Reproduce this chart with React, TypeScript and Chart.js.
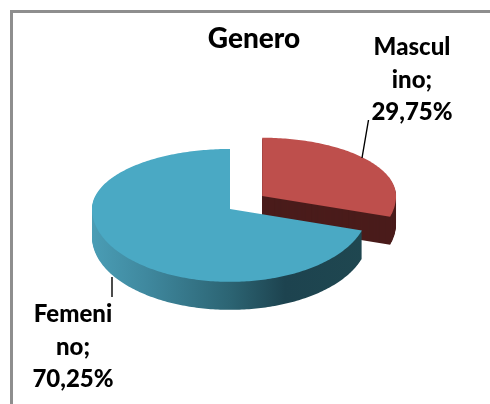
import React, { useEffect, useRef } from "react";
import { Chart, registerables } from "chart.js";

Chart.register(...registerables);

const chartTitle = "Genero";
const categories = ["Masculino", "Femenino"];
const shares = [29.75, 70.25];
const sliceColors = ["#BE4F4C", "#4AA9C4"];
const explode = [160, 0];
const wrappedNames = [["Mascul", "ino;"], ["Femeni", "no;"]];
const decimalLabels = ["29,75%", "70,25%"];

const FONT = "Lato, Carlito, 'Noto Sans', sans-serif";
const PIE_X = 230;
const PIE_Y = 209;
const RADIUS = 138;
const K_UP = 0.435;
const K_DOWN = 0.528;
const K_EXPLODE = 0.55;
const EXPLODED_SCALE = 0.97;
const DEPTH = 28;

const chartCenter = { x: 0, y: 0 };

function outline(el: any) {
  const offset = (el.options.offset || 0) / 4;
  const mid = (el.startAngle + el.endAngle) / 2;
  const ox = Math.cos(mid) * offset + (el.x - chartCenter.x) + PIE_X;
  const oy = Math.sin(mid) * offset * K_EXPLODE + (el.y - chartCenter.y) + PIE_Y;
  const r = el.outerRadius * (offset > 0 ? EXPLODED_SCALE : 1);
  const pts: [number, number][] = [[ox, oy]];
  const steps = Math.ceil(((el.endAngle - el.startAngle) * 180) / Math.PI);
  for (let i = 0; i <= steps; i++) {
    const a = el.startAngle + ((el.endAngle - el.startAngle) * i) / steps;
    const s = Math.sin(a);
    pts.push([ox + r * Math.cos(a), oy + r * s * (s < 0 ? K_UP : K_DOWN)]);
  }
  return pts;
}

function fillPts(ctx: CanvasRenderingContext2D, pts: [number, number][], dy: number) {
  ctx.beginPath();
  pts.forEach(([x, y], i) => (i ? ctx.lineTo(x, y + dy) : ctx.moveTo(x, y + dy)));
  ctx.closePath();
  ctx.fill();
}

const framePlugin = {
  id: "frame",
  beforeDraw(chart: any) {
    const { ctx } = chart;
    ctx.save();
    ctx.fillStyle = "#ffffff";
    ctx.fillRect(0, 0, 490, 404);
    ctx.fillStyle = "#8e8e8e";
    ctx.fillRect(10, 10, 480, 3);
    ctx.fillRect(10, 10, 3, 394);
    ctx.restore();
  },
};

const pie3dPlugin = {
  id: "pie3d",
  beforeDatasetDraw(chart: any, args: any) {
    const { ctx, chartArea } = chart;
    chartCenter.x = (chartArea.left + chartArea.right) / 2;
    chartCenter.y = (chartArea.top + chartArea.bottom) / 2;
    const meta = args.meta;
    meta.data.forEach((el: any, i: number) => {
      const pts = outline(el);
      ctx.save();
      if (i === 1) {
        const g = ctx.createLinearGradient(92, 0, 368, 0);
        g.addColorStop(0, "#4A9DB5");
        g.addColorStop(0.2, "#3F889E");
        g.addColorStop(0.5, "#2C6473");
        g.addColorStop(0.7, "#1D434F");
        g.addColorStop(1, "#1F4750");
        ctx.fillStyle = g;
      } else {
        ctx.fillStyle = "#4A1C1B";
      }
      for (let d = DEPTH; d >= 1; d--) fillPts(ctx, pts, d);
      ctx.fillStyle = el.options.backgroundColor;
      fillPts(ctx, pts, 0);
      ctx.restore();
    });
    return false;
  },
};

const labelPlugin = {
  id: "sliceLabels",
  afterDraw(chart: any) {
    const { ctx } = chart;
    ctx.save();
    ctx.strokeStyle = "#000000";
    ctx.lineWidth = 1.4;
    ctx.beginPath();
    ctx.moveTo(362, 158);
    ctx.lineTo(368.5, 120);
    ctx.moveTo(112, 277);
    ctx.lineTo(112, 297);
    ctx.stroke();
    ctx.fillStyle = "#000000";
    ctx.font = `900 24px ${FONT}`;
    ctx.textAlign = "center";
    ctx.textBaseline = "alphabetic";
    const spots = [
      { x: 412, y: [55, 88, 120] },
      { x: 73, y: [322, 355, 387] },
    ];
    spots.forEach((s, i) => {
      const lines = [...wrappedNames[i], decimalLabels[i]];
      lines.forEach((t, j) => ctx.fillText(t, s.x, s.y[j]));
    });
    ctx.restore();
  },
};

export default function App() {
  const ref = useRef<HTMLCanvasElement>(null);
  useEffect(() => {
    const chart = new Chart(ref.current!, {
      type: "pie",
      data: {
        labels: categories,
        datasets: [
          {
            data: shares,
            backgroundColor: sliceColors,
            borderWidth: 0,
            offset: explode,
            clip: false,
          } as any,
        ],
      },
      options: {
        responsive: false,
        animation: false,
        radius: RADIUS,
        layout: { padding: { left: 18, right: 0, top: 0, bottom: 0 } },
        plugins: {
          legend: { display: false },
          tooltip: { enabled: false },
          title: {
            display: true,
            text: chartTitle,
            fullSize: false,
            color: "#000000",
            font: { family: FONT, size: 28, weight: "900" },
            padding: { top: 22, bottom: 8 },
          },
        },
      } as any,
      plugins: [framePlugin, pie3dPlugin, labelPlugin],
    });
    return () => chart.destroy();
  }, []);
  return (
    <canvas
      ref={ref}
      width={490}
      height={404}
      style={{ position: "fixed", left: 0, top: 0, display: "block" }}
    />
  );
}
